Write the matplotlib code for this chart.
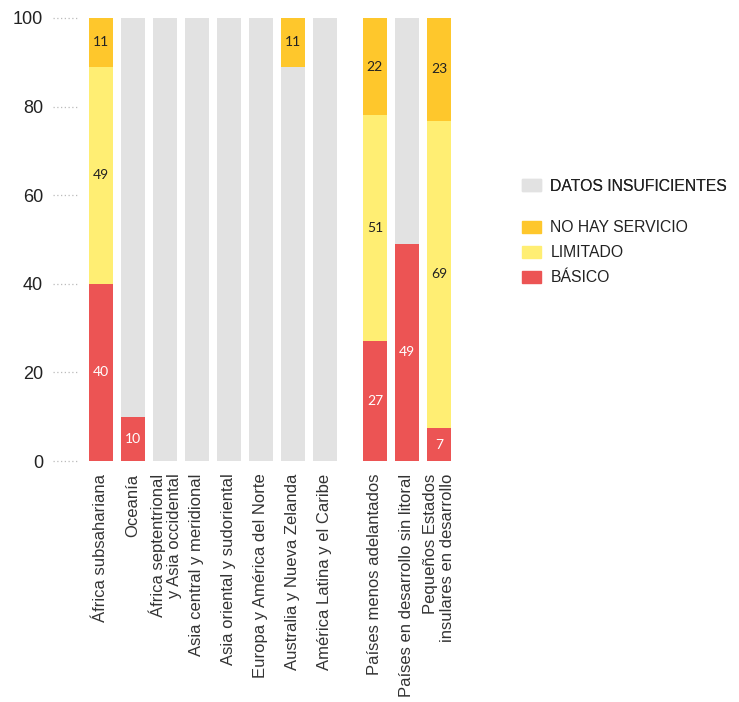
import numpy as np
import matplotlib
matplotlib.use("Agg")
import matplotlib.pyplot as plt
from matplotlib.patches import Patch
import matplotlib.transforms as mtransforms

# Datos
regiones = ["África subsahariana", "Oceanía", "África septentrional\ny Asia occidental",
            "Asia central y meridional", "Asia oriental y sudoriental",
            "Europa y América del Norte", "Australia y Nueva Zelanda",
            "América Latina y el Caribe", "Países menos adelantados",
            "Países en desarrollo sin litoral", "Pequeños Estados\ninsulares en desarrollo"]
basico = [40, 10, 0, 0, 0, 0, 0, 0, 27, 49, 7.4]
limitado = [49, 0, 0, 0, 0, 0, 0, 0, 51, 0, 69.4]
insuficientes = [0, 90, 100, 100, 100, 100, 89, 100, 0, 51, 0]
sin_servicio = [11, 0, 0, 0, 0, 0, 11, 0, 22, 0, 23.2]

c_rojo = "#ec5454"
c_amarillo = "#ffee73"
c_naranja = "#fec72c"
c_gris = "#e2e2e2"

plt.rcParams['font.family'] = ['Liberation Sans', 'DejaVu Sans']

fig = plt.figure(figsize=(7.39, 7.02), dpi=100)
ax = fig.add_axes([0.108, 0.3433, 0.505, 0.6311])

x = np.array(list(range(8)) + [8.56, 9.56, 10.56])
ancho = 0.75

b1 = ax.bar(x, basico, ancho, color=c_rojo)
abajo = np.array(basico)
b2 = ax.bar(x, limitado, ancho, bottom=abajo, color=c_amarillo)
abajo = abajo + np.array(limitado)
b3 = ax.bar(x, insuficientes, ancho, bottom=abajo, color=c_gris)
abajo = abajo + np.array(insuficientes)
b4 = ax.bar(x, sin_servicio, ancho, bottom=abajo, color=c_naranja)

def etiquetas(vals):
    return ["%d" % round(v) if v > 0 else "" for v in vals]

ax.bar_label(b1, labels=etiquetas(basico), label_type='center', color='white',
             fontsize=10, family='Lato')
ax.bar_label(b2, labels=etiquetas(limitado), label_type='center', color='#222222',
             fontsize=10, family='Lato')
ax.bar_label(b4, labels=etiquetas(sin_servicio), label_type='center', color='#222222',
             fontsize=10, family='Lato')

ax.set_ylim(0, 100)
ax.set_xlim(-0.66, 11.0)
ax.set_yticks([0, 20, 40, 60, 80, 100])
ax.tick_params(axis='y', length=0, pad=26.5, labelsize=13, labelcolor='#222222')
ax.set_xticks(x)
ax.set_xticklabels(regiones, rotation=90, multialignment='right', linespacing=1.1)
ax.tick_params(axis='x', length=0, pad=9, labelsize=12, labelcolor='#333333')
for s in ax.spines.values():
    s.set_visible(False)

# marcas punteadas del eje y
trans = mtransforms.blended_transform_factory(ax.transAxes, ax.transData)
for t in [0, 20, 40, 60, 80, 100]:
    ax.plot([-0.072, -0.005], [t, t], transform=trans, clip_on=False,
            color='#bbbbbb', linestyle=(0, (1, 2)), linewidth=0.9)

# leyenda
h1 = [Patch(color=c_gris, label="DATOS INSUFICIENTES")]
h2 = [Patch(color=c_naranja, label="NO HAY SERVICIO"),
      Patch(color=c_amarillo, label="LIMITADO"),
      Patch(color=c_rojo, label="BÁSICO")]
props = dict(size=11.3)
leg1 = fig.legend(handles=h1, loc='center left', bbox_to_anchor=(0.696, 0.735),
                  frameon=False, prop=props, handlelength=1.2, handleheight=0.8,
                  handletextpad=0.6, borderpad=0, labelcolor='#222222')
fig.legend(handles=h2, loc='center left', bbox_to_anchor=(0.696, 0.640),
           frameon=False, prop=props, handlelength=1.2, handleheight=0.8,
           handletextpad=0.6, labelspacing=0.65, borderpad=0, labelcolor='#222222')
fig.add_artist(leg1)

fig.savefig("out.png", dpi=100)
